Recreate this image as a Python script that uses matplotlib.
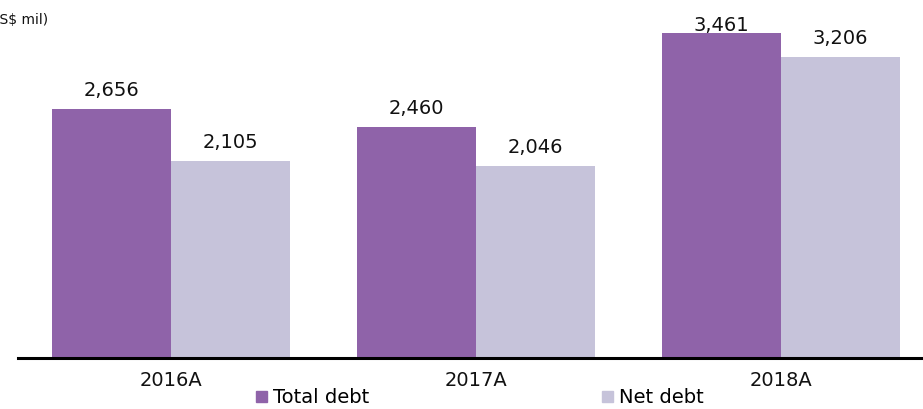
import matplotlib.pyplot as plt
from matplotlib.patches import Patch

years = ["2016A", "2017A", "2018A"]
total_debt = [2656, 2460, 3461]
net_debt = [2105, 2046, 3206]

purple = "#8f63a9"
lilac = "#c6c3da"

plt.rcParams['font.family'] = ['DejaVu Sans']

W, H = 923, 409
fig = plt.figure(figsize=(W / 100, H / 100), dpi=100)
# axes runs a little past the right edge so the baseline reaches the border
ax = fig.add_axes([18 / W, 51 / H, 915.5 / W, 358 / H])

YMAX = 3818
u_per_px = YMAX / 358.0

x = range(len(years))
bw = 0.39
b1 = ax.bar([i - bw / 2 for i in x], total_debt, bw, color=purple, label="Total debt")
b2 = ax.bar([i + bw / 2 for i in x], net_debt, bw, color=lilac, label="Net debt")

# labels sit ~13px above the bar, but are kept inside the plot area
top_baseline = (358 - 31) * u_per_px
for bars, vals in ((b1, total_debt), (b2, net_debt)):
    for r, v in zip(bars, vals):
        ty = min(v + 13 * u_per_px, top_baseline)
        ax.text(r.get_x() + r.get_width() / 2, ty, f"{v:,}",
                ha="center", va="baseline", fontsize=14, color="#111111")

ax.set_xlim(-0.5, 2.5)
ax.set_ylim(0, YMAX)
ax.set_xticks(list(x))
ax.set_xticklabels(years, fontsize=14, color="#111111")
ax.tick_params(axis="x", length=0, pad=9)
ax.set_yticks([])
for s in ("top", "right", "left"):
    ax.spines[s].set_visible(False)
ax.spines["bottom"].set_linewidth(2.2)
ax.spines["bottom"].set_color("black")

fig.text(-0.006, 0.95, "(S$ mil)", fontsize=10, ha="left", va="center", color="#111111")

handles = [Patch(color=purple, label="Total debt"), Patch(color=lilac, label="Net debt")]
fig.legend(handles=handles, loc="center", bbox_to_anchor=(0.52, 0.027), ncol=2,
           frameon=False, fontsize=14, handlelength=0.55, handleheight=0.55,
           handletextpad=0.3, columnspacing=12, borderpad=0)

fig.savefig("out.png", dpi=100)
